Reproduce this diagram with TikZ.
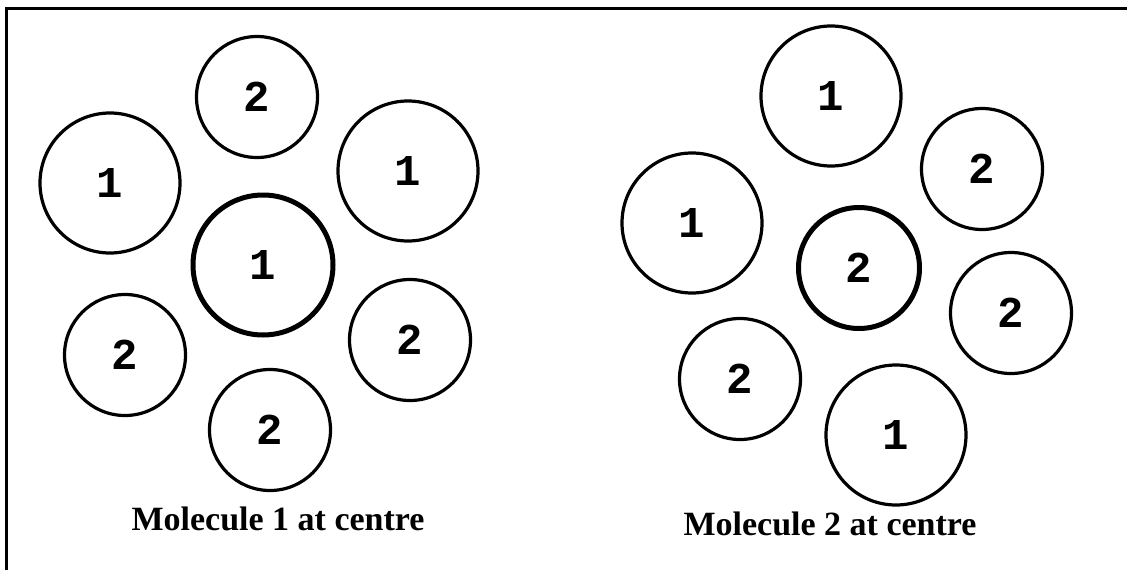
\documentclass[tikz,border=0pt]{standalone}
\usepackage{fontspec}
\setmainfont{Liberation Serif}
\newfontfamily\digitfont{Liberation Mono}
\usepackage{tikz}

\begin{document}
\begin{tikzpicture}[
    x=1pt, y=-1pt,
    mol/.style={
        circle, draw, line width=3.2pt,
        inner sep=0pt,
        font=\digitfont\bfseries\fontsize{44}{44}\selectfont
    },
    molone/.style={mol, minimum size=140pt},
    moltwo/.style={mol, minimum size=121pt},
    centremol/.style={line width=5pt},
    caption/.style={anchor=base, font=\bfseries\fontsize{34}{40}\selectfont}
]
\useasboundingbox (0,0) rectangle (1127,570);
\draw[line width=3pt] (6,570) |- (1127,8);

% molecule 1 at centre
\node[molone, centremol] (lcentre)  at (263,265) {1};
\node[moltwo]            (ltop)     at (257,97)  {2};
\node[molone]            (lleft)    at (110,183) {1};
\node[molone]            (lright)   at (408,171) {1};
\node[moltwo]            (lbotleft) at (125,355) {2};
\node[moltwo]            (lbotright) at (410,340) {2};
\node[moltwo]            (lbottom)  at (270,430) {2};
\node[caption] (lcaption) at (278,530) {Molecule 1 at centre};

% molecule 2 at centre
\node[moltwo, centremol] (rcentre)   at (859,268) {2};
\node[molone]            (rtop)      at (831,96)  {1};
\node[moltwo]            (rright)    at (982,169) {2};
\node[molone]            (rleft)     at (692,223) {1};
\node[moltwo]            (rlowright) at (1011,313) {2};
\node[moltwo]            (rbotleft)  at (740,379) {2};
\node[molone]            (rbottom)   at (896,435) {1};
\node[caption] (rcaption) at (830,535) {Molecule 2 at centre};
\end{tikzpicture}
\end{document}
